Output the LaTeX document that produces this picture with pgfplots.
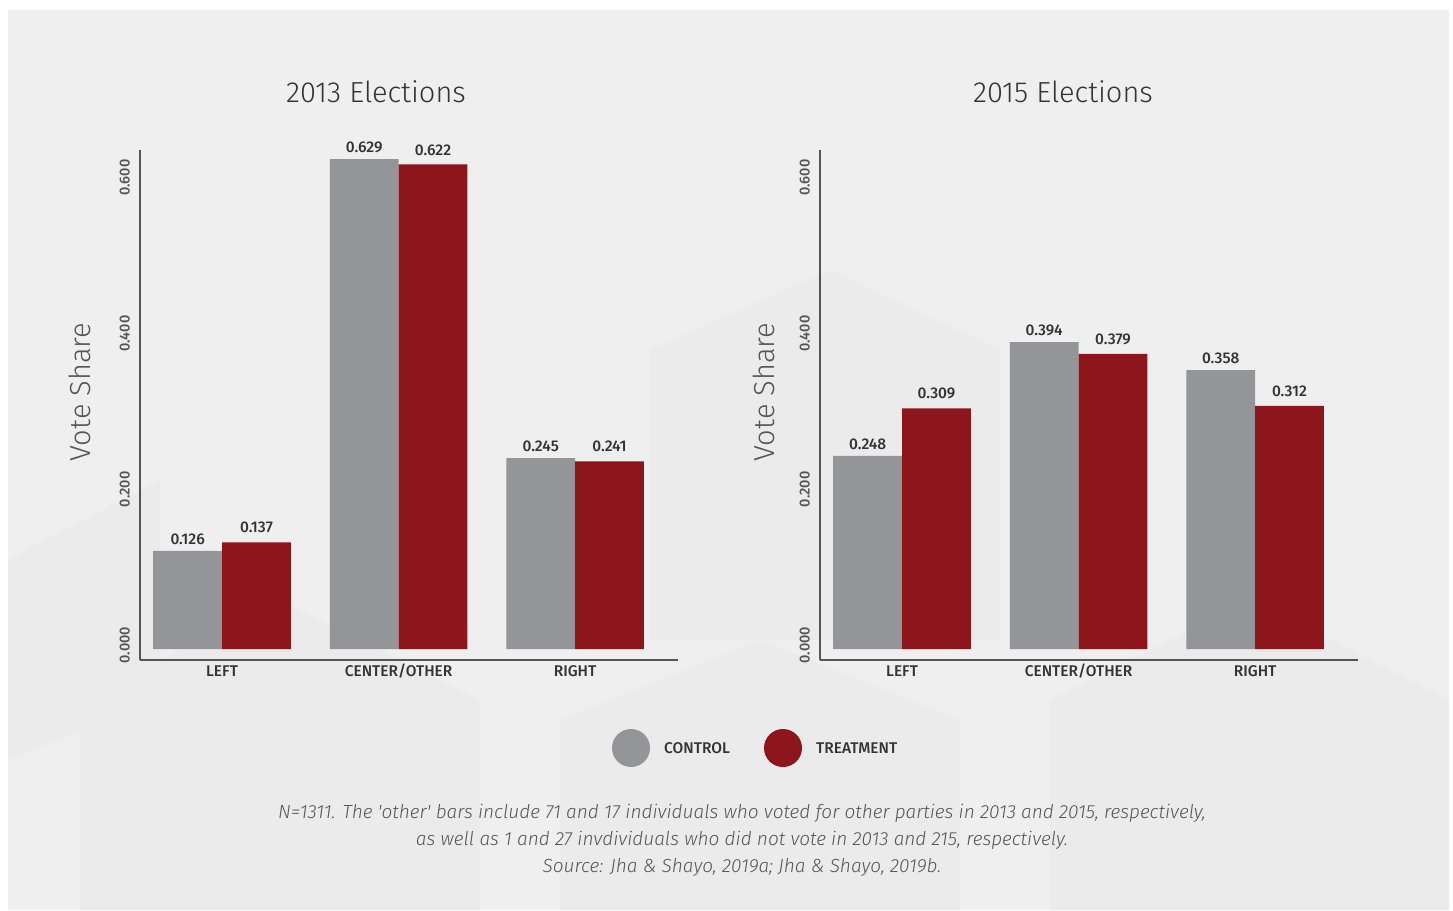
\documentclass[border=0pt]{standalone}
\usepackage{pgfplots}
\pgfplotsset{compat=1.18}
\usepackage{fontspec}
\setmainfont{Fira Sans}
\newfontfamily\lightfont{Fira Sans}[UprightFont={* Light}, ItalicFont={* Light Italic}]
\newfontfamily\semifont{Fira Sans}[UprightFont={* Medium}]
\definecolor{bgcol}{HTML}{EFEFEF}
\definecolor{hexcol}{HTML}{EBEBEC}
\definecolor{ctrl}{HTML}{939598}
\definecolor{treat}{HTML}{8C161C}
\definecolor{axcol}{HTML}{555555}
\definecolor{txt}{HTML}{333333}
\pgfplotstableread{
x c13 t13 c15 t15
0 0.126 0.137 0.248 0.309
1 0.629 0.622 0.394 0.379
2 0.245 0.241 0.358 0.312
}\votes
\pgfplotsset{
  panel/.style={
    anchor=south west, scale only axis,
    width=538pt, height=510pt,
    xmin=-0.465, xmax=2.583, ymin=-0.0141, ymax=0.6406,
    axis lines=left,
    axis line style={-, draw=axcol, line width=1.3pt},
    major tick length=0pt,
    ytick={0,0.2,0.4,0.6},
    yticklabel style={yshift=4pt, rotate=90, anchor=south, inner sep=0pt, font=\semifont\fontsize{14.5}{14.5}\selectfont, text=axcol,
      /pgf/number format/.cd, fixed, fixed zerofill, precision=3, assume math mode=true},
    yticklabel shift=10pt,
    xtick={0,1,2},
    xticklabels={LEFT, CENTER/OTHER, RIGHT},
    xticklabel style={anchor=north, inner sep=0pt, text height=11pt, text depth=3pt, font=\semifont\fontsize{15.5}{15.5}\selectfont, text=txt},
    xticklabel shift=5pt,
    ybar=0pt, bar width=0.39,
    nodes near coords,
    every node near coord/.append style={anchor=south, inner sep=0pt, yshift=6pt,
      font=\semifont\fontsize{15.5}{15.5}\selectfont, text=txt,
      /pgf/number format/.cd, fixed, fixed zerofill, precision=3, assume math mode=true},
    clip=false,
  },
  trt/.style={fill=treat, draw=none, every node near coord/.append style={/tikz/yshift=3pt}},
  ctl/.style={fill=ctrl, draw=none},
}
\begin{document}
\begin{tikzpicture}
\fill[white] (0,0) rectangle (1453pt,-910pt);
\fill[bgcol] (8pt,-10pt) rectangle (1449pt,-910pt);
% faint hexagon pattern
\begin{scope}[hexcol]
\fill (80pt,-700pt) -- (280pt,-600pt) -- (480pt,-700pt) -- (480pt,-910pt) -- (80pt,-910pt) -- cycle;
\fill (650pt,-350pt) -- (830pt,-270pt) -- (1000pt,-350pt) -- (1000pt,-640pt) -- (650pt,-640pt) -- cycle;
\fill (1050pt,-700pt) -- (1250pt,-600pt) -- (1449pt,-700pt) -- (1449pt,-910pt) -- (1050pt,-910pt) -- cycle;
\fill (8pt,-560pt) -- (160pt,-480pt) -- (160pt,-700pt) -- (8pt,-760pt) -- cycle;
\fill (560pt,-720pt) -- (760pt,-640pt) -- (960pt,-720pt) -- (960pt,-910pt) -- (560pt,-910pt) -- cycle;
\end{scope}
\begin{axis}[panel, at={(140pt,-660pt)}]
\addplot[ctl] table[x=x, y=c13] {\votes};
\addplot[trt] table[x=x, y=t13] {\votes};
\end{axis}
\begin{axis}[panel, at={(820pt,-660pt)}]
\addplot[ctl] table[x=x, y=c15] {\votes};
\addplot[trt] table[x=x, y=t15] {\votes};
\end{axis}
% titles
\node[font=\lightfont\fontsize{29}{29}\selectfont, text=txt] at (376pt,-92pt) {2013 Elections};
\node[font=\lightfont\fontsize{29}{29}\selectfont, text=txt] at (1063pt,-92pt) {2015 Elections};
% y labels
\node[rotate=90, font=\lightfont\fontsize{29}{29}\selectfont, text=axcol] at (80pt,-392pt) {Vote Share};
\node[rotate=90, font=\lightfont\fontsize{29}{29}\selectfont, text=axcol] at (764pt,-392pt) {Vote Share};
% legend
\fill[ctrl] (631pt,-748pt) circle (19pt);
\node[anchor=west, inner sep=0pt, font=\semifont\fontsize{15.5}{15.5}\selectfont, text=txt] at (664pt,-748pt) {CONTROL};
\fill[treat] (783pt,-748pt) circle (19pt);
\node[anchor=west, inner sep=0pt, font=\semifont\fontsize{15.5}{15.5}\selectfont, text=txt] at (816pt,-748pt) {TREATMENT};
% footnote
\node[align=center, font=\lightfont\itshape\fontsize{19}{27}\selectfont, text=axcol] at (742pt,-840pt)
{N=1311. The 'other' bars include 71 and 17 individuals who voted for other parties in 2013 and 2015, respectively,\\
as well as 1 and 27 invdividuals who did not vote in 2013 and 215, respectively.\\
Source: Jha \& Shayo, 2019a; Jha \& Shayo, 2019b.};
\end{tikzpicture}
\end{document}
